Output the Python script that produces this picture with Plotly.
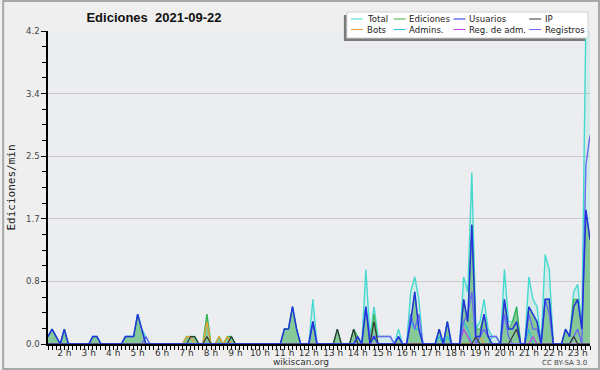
import plotly.graph_objects as go
import pandas as pd

# ---------------- data (edits per minute, 10-minute buckets) ----------------
times = pd.date_range("2021-09-22 01:20", periods=134, freq="10min")

total = [
    .1, .2, .1, 0,
    .2, 0, 0, 0, 0, 0,
    0, .1, .1, 0, 0, 0,
    0, 0, 0, .1, .1, .1,
    .4, .2, .1, 0, 0, 0,
    0, 0, 0, 0, 0, 0,
    .1, .1, .1, 0, 0, .4,
    0, 0, .1, 0, .1, .1,
    0, 0, 0, 0, 0, 0,
    0, 0, 0, 0, 0, 0,
    .2, .2, .5, .2, 0, 0,
    0, .6, 0, 0, 0, 0,
    0, .2, 0, 0, 0, .2,
    .1, 0, 1.0, .1, .5, .1,
    .1, .1, .1, 0, .2, 0,
    0, .7, .9, .6, 0, 0,
    0, 0, .2, 0, .3, 0,
    0, 0, .9, .7, 2.3, .2,
    .3, .6, .2, .1, .1, 0,
    1.0, .3, .3, .5, 0, 0,
    .9, .6, .5, 0, 1.2, 1.0,
    0, 0, 0, .2, .1, .7,
    .8, .2, 4.4, 4.6,
]

ediciones = [
    .1, .2, .1, 0,
    .2, 0, 0, 0, 0, 0,
    0, .1, .1, 0, 0, 0,
    0, 0, 0, .1, .1, .1,
    .4, .2, 0, 0, 0, 0,
    0, 0, 0, 0, 0, 0,
    .1, .1, .1, 0, 0, .4,
    0, 0, .1, 0, .1, .1,
    0, 0, 0, 0, 0, 0,
    0, 0, 0, 0, 0, 0,
    .2, .2, .5, .2, 0, 0,
    0, .3, 0, 0, 0, 0,
    0, .2, 0, 0, 0, .2,
    .1, 0, .5, 0, .4, 0,
    0, 0, 0, 0, .1, 0,
    0, .3, .7, .2, 0, 0,
    0, 0, .2, 0, .3, 0,
    0, 0, .6, .3, 1.6, .2,
    .2, .4, .1, 0, 0, 0,
    .6, .2, .3, .5, 0, 0,
    .5, .4, .3, 0, .6, .6,
    0, 0, 0, .2, .1, .6,
    .6, .2, 1.8, 1.4,
]

usuarios = [
    .1, .2, .1, 0,
    .2, 0, 0, 0, 0, 0,
    0, .1, .1, 0, 0, 0,
    0, 0, 0, .1, .1, .1,
    .4, .2, 0, 0, 0, 0,
    0, 0, 0, 0, 0, 0,
    0, 0, 0, 0, 0, 0,
    0, 0, 0, 0, 0, 0,
    0, 0, 0, 0, 0, 0,
    0, 0, 0, 0, 0, 0,
    .2, .2, .5, .2, 0, 0,
    0, .3, 0, 0, 0, 0,
    0, 0, 0, 0, 0, 0,
    .1, 0, .5, 0, .1, 0,
    0, 0, 0, 0, .1, 0,
    0, .3, .7, .2, 0, 0,
    0, 0, .2, 0, .3, 0,
    0, 0, .6, .3, 1.6, .1,
    .1, .4, .1, 0, 0, 0,
    .6, .2, .2, .3, 0, 0,
    .5, .4, .3, 0, .6, .6,
    0, 0, 0, .2, .1, .5,
    .6, .2, 1.8, 1.4,
]

ip = [
    0, 0, 0, 0,
    0, 0, 0, 0, 0, 0,
    0, 0, 0, 0, 0, 0,
    0, 0, 0, 0, 0, 0,
    0, 0, 0, 0, 0, 0,
    0, 0, 0, 0, 0, 0,
    0, .1, .1, 0, 0, .1,
    0, 0, 0, 0, 0, .1,
    0, 0, 0, 0, 0, 0,
    0, 0, 0, 0, 0, 0,
    0, 0, 0, 0, 0, 0,
    0, 0, 0, 0, 0, 0,
    0, .2, 0, 0, 0, .2,
    0, 0, 0, 0, .3, 0,
    0, 0, 0, 0, 0, 0,
    0, 0, 0, 0, 0, 0,
    0, 0, 0, 0, 0, 0,
    0, 0, 0, 0, 0, .1,
    0, 0, 0, 0, 0, 0,
    0, 0, .1, .2, 0, 0,
    0, 0, 0, 0, 0, 0,
    0, 0, 0, 0, 0, .1,
    0, 0, 0, 0,
]

bots = [
    0, 0, 0, 0,
    0, 0, 0, 0, 0, 0,
    0, 0, 0, 0, 0, 0,
    0, 0, 0, 0, 0, 0,
    0, 0, 0, 0, 0, 0,
    0, 0, 0, 0, 0, 0,
    .1, .1, 0, 0, 0, .3,
    0, 0, .1, 0, .1, 0,
    0, 0, 0, 0, 0, 0,
    0, 0, 0, 0, 0, 0,
    0, 0, 0, 0, 0, 0,
    0, 0, 0, 0, 0, 0,
    0, 0, 0, 0, 0, 0,
    0, 0, 0, 0, 0, 0,
    0, 0, 0, 0, 0, 0,
    0, 0, 0, 0, 0, 0,
    0, 0, 0, 0, 0, 0,
    0, 0, 0, 0, 0, 0,
    .1, 0, 0, 0, 0, 0,
    0, 0, 0, 0, 0, 0,
    0, 0, 0, 0, 0, 0,
    0, 0, 0, 0, 0, 0,
    0, 0, 0, 0,
]

admins = [
    0, 0, 0, 0,
    0, 0, 0, 0, 0, 0,
    0, 0, 0, 0, 0, 0,
    0, 0, 0, 0, 0, 0,
    0, 0, 0, 0, 0, 0,
    0, 0, 0, 0, 0, 0,
    0, 0, 0, 0, 0, 0,
    0, 0, 0, 0, 0, 0,
    0, 0, 0, 0, 0, 0,
    0, 0, 0, 0, 0, 0,
    0, 0, 0, 0, 0, 0,
    0, 0, 0, 0, 0, 0,
    0, 0, 0, 0, 0, 0,
    0, 0, 0, 0, 0, 0,
    0, 0, 0, 0, 0, 0,
    0, .3, .2, .2, 0, 0,
    0, 0, .1, 0, .1, 0,
    0, 0, .3, .2, 0, 0,
    0, 0, 0, .1, .1, 0,
    0, 0, 0, 0, 0, 0,
    .2, 0, 0, 0, 0, 0,
    0, 0, 0, 0, 0, 0,
    0, 0, 0, 0,
]

reg_adm = [
    0, 0, 0, 0,
    0, 0, 0, 0, 0, 0,
    0, 0, 0, 0, 0, 0,
    0, 0, 0, 0, 0, 0,
    0, 0, 0, 0, 0, 0,
    0, 0, 0, 0, 0, 0,
    0, 0, 0, 0, 0, 0,
    0, 0, 0, 0, 0, 0,
    0, 0, 0, 0, 0, 0,
    0, 0, 0, 0, 0, 0,
    0, 0, 0, 0, 0, 0,
    0, 0, 0, 0, 0, 0,
    0, 0, 0, 0, 0, 0,
    0, 0, 0, 0, 0, 0,
    0, 0, 0, 0, 0, 0,
    0, 0, 0, 0, 0, 0,
    0, 0, 0, 0, 0, 0,
    0, 0, .2, .1, 0, 0,
    0, 0, 0, 0, 0, 0,
    0, 0, 0, 0, 0, 0,
    0, .1, 0, 0, 0, 0,
    0, 0, 0, 0, 0, 0,
    0, 0, 0, 0,
]

registros = [
    0, 0, 0, 0,
    0, 0, 0, 0, 0, 0,
    0, 0, 0, 0, 0, 0,
    0, 0, 0, 0, 0, 0,
    0, 0, .1, 0, 0, 0,
    0, 0, 0, 0, 0, 0,
    0, 0, 0, 0, 0, 0,
    0, 0, 0, 0, 0, 0,
    0, 0, 0, 0, 0, 0,
    0, 0, 0, 0, 0, 0,
    0, 0, 0, 0, 0, 0,
    0, .3, 0, 0, 0, 0,
    0, 0, 0, 0, 0, 0,
    0, 0, .5, .1, .1, .1,
    .1, .1, .1, 0, .1, 0,
    0, .4, .2, .4, 0, 0,
    0, 0, 0, 0, 0, 0,
    0, 0, .3, .4, .7, 0,
    .1, .2, .1, .1, .1, 0,
    .4, .1, 0, 0, 0, 0,
    .4, .2, .2, 0, .6, .4,
    0, 0, 0, 0, 0, .1,
    .2, 0, 2.4, 2.8,
]

hour_ticks = pd.date_range("2021-09-22 02:00", "2021-09-22 23:00", freq="h")
hour_labels = [f"{t.hour} h" for t in hour_ticks]
y_tickvals = [0, 0.84, 1.68, 2.52, 3.36, 4.2]
y_ticktext = ["0.0", "0.8", "1.7", "2.5", "3.4", "4.2"]

# ---------------- styling ----------------
W, H = 600, 370
ML, MR, MT, MB = 46, 10, 31, 26
PW, PH = W - ML - MR, H - MT - MB


def fx(px):
    return (px - ML) / PW


def fy(py):
    return (H - MB - py) / PH


C = {
    "Total": "#46D9CF",
    "Ediciones": "#3CB043",
    "Usuarios": "#2233DD",
    "IP": "#333333",
    "Bots": "#F0A030",
    "Admins.": "#28BFE0",
    "Reg. de adm.": "#C040E0",
    "Registros": "#6A6AF2",
}

fig = go.Figure()
fig.add_trace(go.Scatter(x=times, y=total, name="Total", mode="lines",
                         line=dict(color=C["Total"], width=1.4),
                         fill="tozeroy", fillcolor="rgba(80,215,205,0.16)"))
fig.add_trace(go.Scatter(x=times, y=ediciones, name="Ediciones", mode="lines",
                         line=dict(color=C["Ediciones"], width=1),
                         fill="tozeroy", fillcolor="rgba(40,160,50,0.45)"))
for name, vals, w in [("Bots", bots, 1.2), ("Admins.", admins, 1.2),
                      ("Reg. de adm.", reg_adm, 1.2), ("Registros", registros, 1.4),
                      ("IP", ip, 1.2), ("Usuarios", usuarios, 1.5)]:
    fig.add_trace(go.Scatter(x=times, y=vals, name=name, mode="lines",
                             line=dict(color=C[name], width=w)))

tickfont = dict(family="DejaVu Sans", size=9, color="#333333")

fig.update_layout(
    width=W, height=H,
    margin=dict(l=ML, r=MR, t=MT, b=MB),
    paper_bgcolor="#EFEFEF",
    plot_bgcolor="#ECEDF0",
    showlegend=False,
    title=dict(text="<b>Ediciones\u00a0 2021-09-22</b>", x=154 / W, xanchor="center",
               y=1 - 17 / H, yanchor="middle",
               font=dict(family="Liberation Sans", size=13, color="#111111")),
    xaxis=dict(type="date", range=[times[0], times[-1]],
               tickmode="array", tickvals=hour_ticks, ticktext=hour_labels,
               ticks="outside", ticklen=4, tickcolor="#000", tickwidth=1,
               ticklabelstandoff=-5,
               showline=True, linecolor="#000", linewidth=1.5,
               showgrid=False, zeroline=False, tickfont=tickfont,
               minor=dict(dtick=600000, tick0="2021-09-22 00:00", ticks="outside",
                          ticklen=4, tickcolor="#000", showgrid=False)),
    yaxis=dict(range=[0, 4.2], tickmode="array", tickvals=y_tickvals, ticktext=y_ticktext,
               ticks="outside", ticklen=5, tickcolor="#000", tickwidth=1,
               showline=True, linecolor="#000", linewidth=1.5,
               gridcolor="#C8C8C8", gridwidth=1, zeroline=False,
               tickfont=dict(family="DejaVu Sans", size=8.5, color="#444444"),
               minor=dict(dtick=0.21, tick0=0, ticks="outside", ticklen=4,
                          tickcolor="#000", showgrid=False),
               title=dict(text="Ediciones/min", standoff=8,
                          font=dict(family="DejaVu Sans Mono", size=11, color="#222222"))),
)

shapes = [
    # outer frame
    dict(type="rect", xref="paper", yref="paper", x0=fx(1), x1=fx(599), y0=fy(369), y1=fy(1),
         line=dict(color="#A8A8A8", width=2), fillcolor="rgba(0,0,0,0)"),
    # legend shadow and box
    dict(type="rect", xref="paper", yref="paper", x0=fx(343), x1=fx(585), y0=fy(41), y1=fy(15),
         line=dict(width=0), fillcolor="#7A7A7A"),
    dict(type="rect", xref="paper", yref="paper", x0=fx(346), x1=fx(588), y0=fy(38), y1=fy(12),
         line=dict(color="#D0D0D0", width=1), fillcolor="#FFFFFF"),
]

annotations = [
    dict(text="wikiscan.org", x=fx(300), y=fy(362), xref="paper", yref="paper",
         showarrow=False, xanchor="center", yanchor="middle",
         font=dict(family="DejaVu Sans", size=9, color="#333333")),
    dict(text="CC BY-SA 3.0", x=fx(589), y=fy(362.5), xref="paper", yref="paper",
         showarrow=False, xanchor="right", yanchor="middle",
         font=dict(family="DejaVu Sans", size=7, color="#444444")),
]

legend_items = [("Total", 0, 0), ("Bots", 0, 1), ("Ediciones", 1, 0), ("Admins.", 1, 1),
                ("Usuarios", 2, 0), ("Reg. de adm.", 2, 1), ("IP", 3, 0), ("Registros", 3, 1)]
col_sym = [350, 393, 453, 529]
col_txt = [366, 408, 469, 545]
row_y = [19, 29.5]
for name, col, row in legend_items:
    shapes.append(dict(type="line", xref="paper", yref="paper",
                       x0=fx(col_sym[col]), x1=fx(col_sym[col] + 12),
                       y0=fy(row_y[row]), y1=fy(row_y[row]),
                       line=dict(color=C[name], width=1)))
    annotations.append(dict(text=name, x=fx(col_txt[col]), y=fy(row_y[row]),
                            xref="paper", yref="paper", showarrow=False,
                            xanchor="left", yanchor="middle", borderpad=0, borderwidth=0,
                            font=dict(family="DejaVu Sans", size=8.6, color="#222222")))

fig.update_layout(shapes=shapes, annotations=annotations)

fig.write_html("out.html")
